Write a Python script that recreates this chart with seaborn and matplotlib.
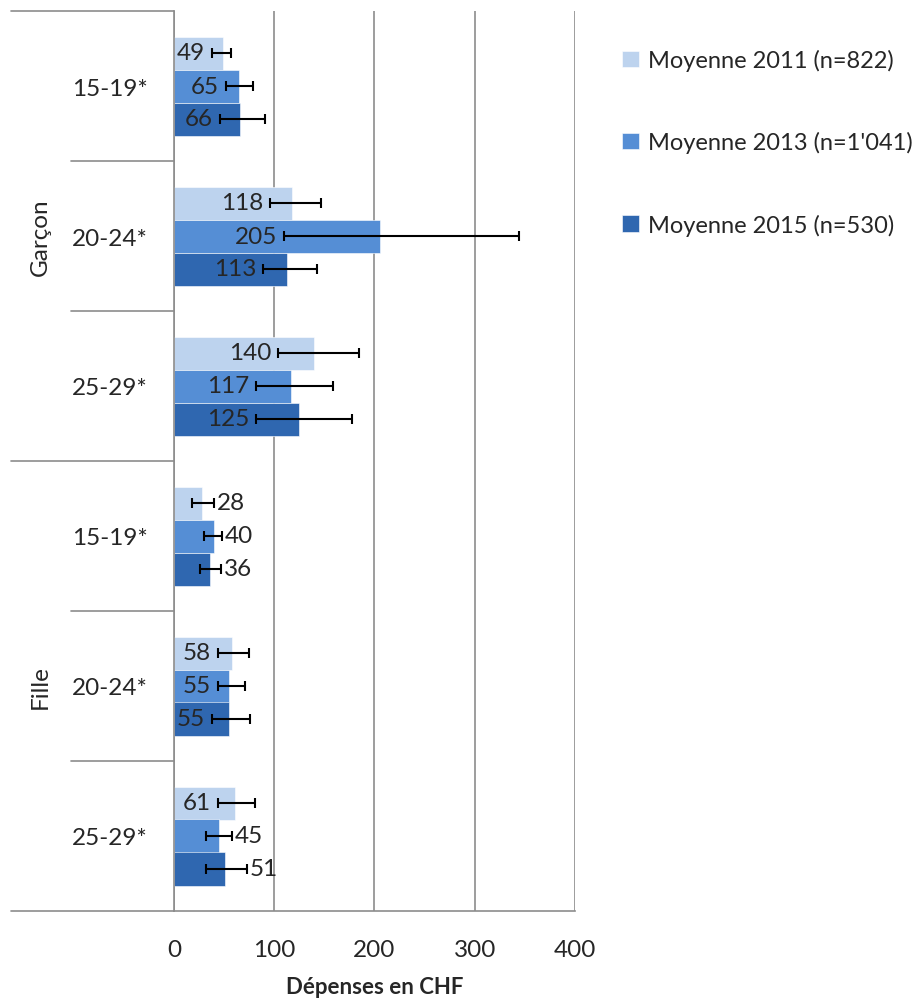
import pandas as pd
import matplotlib.pyplot as plt
import matplotlib.transforms as mtransforms
import seaborn as sns

# Données
groupes = ["Garçon", "Garçon", "Garçon", "Fille", "Fille", "Fille"]
ages = ["15-19*", "20-24*", "25-29*", "15-19*", "20-24*", "25-29*"]
series = ["Moyenne 2011 (n=822)", "Moyenne 2013 (n=1'041)", "Moyenne 2015 (n=530)"]
couleurs = ["#BDD3EE", "#558ED5", "#2F67B0"]

moy_2011 = [49, 118, 140, 28, 58, 61]
moy_2013 = [65, 205, 117, 40, 55, 45]
moy_2015 = [66, 113, 125, 36, 55, 51]

# bornes des barres d'erreur
bas_2011 = [38, 96, 104, 18, 44, 44]
haut_2011 = [57, 147, 185, 40, 75, 81]
bas_2013 = [52, 110, 82, 30, 44, 32]
haut_2013 = [79, 344, 159, 48, 71, 58]
bas_2015 = [46, 89, 82, 26, 38, 32]
haut_2015 = [91, 143, 178, 47, 76, 73]

xticks = [0, 100, 200, 300, 400]

moyennes = [moy_2011, moy_2013, moy_2015]
bas = [bas_2011, bas_2013, bas_2015]
haut = [haut_2011, haut_2013, haut_2015]

cats = [g + " " + a for g, a in zip(groupes, ages)]
lignes = []
for s, vals in zip(series, moyennes):
    for c, v in zip(cats, vals):
        lignes.append({"cat": c, "serie": s, "valeur": v})
df = pd.DataFrame(lignes)

sns.set_style("white")
plt.rcParams['font.family'] = ['Lato', 'DejaVu Sans']
fs = 17.5

fig = plt.figure(figsize=(9.2, 10.03), dpi=100)
ax = fig.add_axes([174 / 920, 1 - 912 / 1003, 401 / 920, 900 / 1003])

sns.barplot(data=df, x="valeur", y="cat", hue="serie", order=cats, hue_order=series,
            palette=couleurs, orient="h", width=0.66, errorbar=None, ax=ax,
            edgecolor="white", linewidth=0.4, saturation=1)

ax.set_xlim(0, 400)
ax.set_ylim(len(cats) - 0.5, -0.5)
ax.set_xticks(xticks)
ax.set_xticklabels([str(t) for t in xticks], fontsize=fs)
ax.set_yticks(range(len(cats)))
ax.set_yticklabels(ages, fontsize=fs)
ax.tick_params(axis="y", length=0, pad=19)
ax.tick_params(axis="x", length=6, width=1.1, color="#8C8C8C", direction="out", pad=14)
ax.set_ylabel("")
ax.set_xlabel("Dépenses en CHF", fontsize=16, fontweight="bold", labelpad=12)

ax.grid(axis="x", color="#8C8C8C", linewidth=1.2)
ax.set_axisbelow(True)
for sp in ["top", "right"]:
    ax.spines[sp].set_visible(False)
for sp in ["left", "bottom"]:
    ax.spines[sp].set_color("#8C8C8C")
    ax.spines[sp].set_linewidth(1.2)

# barres d'erreur et étiquettes
bar_conts = list(ax.containers)
for k, cont in enumerate(bar_conts):
    for j, p in enumerate(cont.patches):
        yc = p.get_y() + p.get_height() / 2
        v = moyennes[k][j]
        lo, hi = bas[k][j], haut[k][j]
        ax.errorbar(v, yc, xerr=[[v - lo], [hi - v]], fmt="none", ecolor="black",
                    elinewidth=1.5, capsize=3.5, capthick=1.5, zorder=4)
        if lo > 35:
            ax.annotate(str(v), (lo, yc), xytext=(-5, 0), textcoords="offset points",
                        ha="right", va="center", fontsize=fs, zorder=5)
        else:
            ax.annotate(str(v), (hi, yc), xytext=(2, 0), textcoords="offset points",
                        ha="left", va="center", fontsize=fs, zorder=5)

# séparateurs de catégories à gauche
trans = mtransforms.blended_transform_factory(ax.transAxes, ax.transData)
x_court = (71 - 174) / 401
x_long = (11 - 174) / 401
for b in range(len(cats) + 1):
    yb = b - 0.5
    x0 = x_long if b % 3 == 0 else x_court
    ax.plot([x0, 0], [yb, yb], color="#8C8C8C", linewidth=1.2, transform=trans,
            clip_on=False)

# libellés des groupes
for i in range(0, len(cats), 3):
    ax.text((40 - 174) / 401, i + 1, groupes[i], rotation=90, ha="center",
            va="center", fontsize=fs, transform=trans)

h, l = ax.get_legend_handles_labels()
ax.legend_.remove()
fig.legend(h, l, loc="upper left", bbox_to_anchor=(622 / 920, 1 - 50 / 1003),
           frameon=False, fontsize=17, borderpad=0, borderaxespad=0,
           labelspacing=2.55, handlelength=0.7, handleheight=0.7, handletextpad=0.4)

fig.savefig("out.png", dpi=100)
